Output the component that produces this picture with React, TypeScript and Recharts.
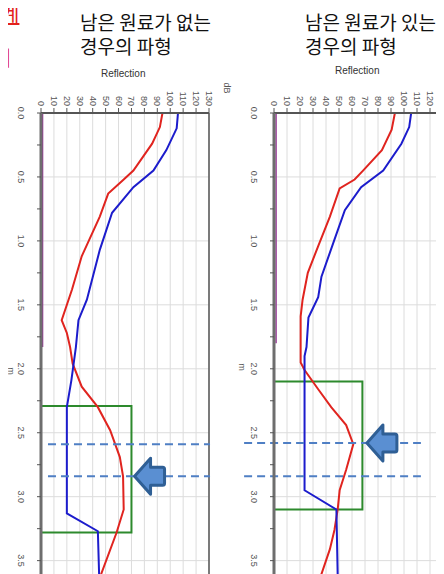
import React from 'react';
import { LineChart, Line, XAxis, YAxis, CartesianGrid, ReferenceLine, ReferenceArea, ReferenceDot } from 'recharts';

const dbTicks = [0, 10, 20, 30, 40, 50, 60, 70, 80, 90, 100, 110, 120, 130];
const depthTicks = [0, 0.25, 0.5, 0.75, 1, 1.25, 1.5, 1.75, 2, 2.25, 2.5, 2.75, 3, 3.25, 3.5, 3.75];
const depthGrid = [0.5, 1, 1.5, 2, 2.5, 3, 3.5];

// left chart: no remaining material
const leftRed = [
  { d: 0, v: 94 }, { d: 0.11, v: 92 }, { d: 0.24, v: 86 }, { d: 0.45, v: 71.5 }, { d: 0.52, v: 64 },
  { d: 0.63, v: 52 }, { d: 0.81, v: 45.5 }, { d: 1.12, v: 31.5 }, { d: 1.38, v: 24 }, { d: 1.62, v: 16 },
  { d: 1.72, v: 20 }, { d: 1.83, v: 22.5 }, { d: 1.96, v: 24.5 }, { d: 2.14, v: 31.5 }, { d: 2.3, v: 44 },
  { d: 2.48, v: 53.5 }, { d: 2.69, v: 61 }, { d: 2.84, v: 63.5 }, { d: 3.1, v: 64 }, { d: 3.28, v: 58.5 },
  { d: 3.62, v: 46 },
];
const leftBlue = [
  { d: 0, v: 106 }, { d: 0.12, v: 105 }, { d: 0.29, v: 97 }, { d: 0.45, v: 87 }, { d: 0.58, v: 71.5 },
  { d: 0.78, v: 55 }, { d: 1.07, v: 45.5 }, { d: 1.46, v: 35.5 }, { d: 1.62, v: 29 }, { d: 1.83, v: 27 },
  { d: 2.09, v: 23.5 }, { d: 2.3, v: 20 }, { d: 3.13, v: 20 }, { d: 3.27, v: 44 }, { d: 3.62, v: 45 },
];
const leftPurple = [{ d: 0, v: 1.2 }, { d: 1.83, v: 1.2 }];

// right chart: remaining material
const rightRed = [
  { d: 0, v: 93 }, { d: 0.13, v: 90.5 }, { d: 0.29, v: 83 }, { d: 0.45, v: 68.5 }, { d: 0.52, v: 62 },
  { d: 0.59, v: 50.5 }, { d: 0.81, v: 43 }, { d: 1.04, v: 34 }, { d: 1.25, v: 26 }, { d: 1.46, v: 22 },
  { d: 1.59, v: 20.5 }, { d: 1.95, v: 20.5 }, { d: 2.01, v: 23.5 }, { d: 2.16, v: 34 }, { d: 2.3, v: 44 },
  { d: 2.44, v: 55.5 }, { d: 2.59, v: 61 }, { d: 2.79, v: 55.5 }, { d: 2.95, v: 50.5 }, { d: 3.1, v: 49 },
  { d: 3.26, v: 46.5 }, { d: 3.41, v: 43 }, { d: 3.62, v: 36 },
];
const rightBlue = [
  { d: 0, v: 105.5 }, { d: 0.11, v: 104 }, { d: 0.24, v: 98 }, { d: 0.45, v: 84 }, { d: 0.58, v: 67 },
  { d: 0.76, v: 54.5 }, { d: 0.99, v: 46.5 }, { d: 1.28, v: 36.5 }, { d: 1.44, v: 34 }, { d: 1.6, v: 26.5 },
  { d: 1.83, v: 25 }, { d: 1.9, v: 23.5 }, { d: 2.95, v: 23.5 }, { d: 3.1, v: 48 }, { d: 3.62, v: 49 },
];
const rightPurple = [{ d: 0, v: 1.6 }, { d: 1.8, v: 1.6 }];

const leftBox = { x2: 70, y1: 2.29, y2: 3.28 };
const rightBox = { x2: 68, y1: 2.1, y2: 3.1 };
const leftDash = { x1: 5.4, x2: 130.8, ys: [2.59, 2.84] };
const rightDash = { x1: -23, x2: 113, ys: [2.58, 2.84] };
const leftArrow = { x: 84, y: 2.84 };
const rightArrow = { x: 83, y: 2.58 };

const tickFont = 'Liberation Sans, Arial, sans-serif';

const XTick = (props: any) => {
  const { x, y, payload } = props;
  return (
    <text x={x} y={y} transform={`rotate(90 ${x} ${y})`} textAnchor="end" dominantBaseline="central"
      fontSize={9} fill="#555" fontFamily={tickFont}>{payload.value}</text>
  );
};

const YTick = (props: any) => {
  const { x, y, payload } = props;
  const v = payload.value;
  if (Math.abs(v * 2 - Math.round(v * 2)) > 1e-6) return <g />;
  return (
    <text x={x} y={y} transform={`rotate(90 ${x} ${y})`} textAnchor="middle" dominantBaseline="central"
      fontSize={9} fill="#555" fontFamily={tickFont}>{v.toFixed(1)}</text>
  );
};

const Arrow = (props: any) => {
  const { cx, cy } = props;
  const l = cx - 15;
  const p = `M ${l} ${cy} L ${l + 16} ${cy - 18} L ${l + 16} ${cy - 9} L ${l + 28} ${cy - 9} Q ${l + 30} ${cy - 9} ${l + 30} ${cy - 7} L ${l + 30} ${cy + 7} Q ${l + 30} ${cy + 9} ${l + 28} ${cy + 9} L ${l + 16} ${cy + 9} L ${l + 16} ${cy + 18} Z`;
  return <path d={p} fill="#5a8fd2" stroke="#2f5f95" strokeWidth={3} strokeLinejoin="round" />;
};

function Panel(props: any) {
  const { red, blue, purple, box, dash, arrow, yWidth, rightMargin } = props;
  return (
    <LineChart layout="vertical" width={222} height={600} margin={{ top: 0, left: 0, right: rightMargin, bottom: 1 }}>
      <CartesianGrid stroke="#dcdcdc" strokeWidth={1} verticalValues={dbTicks} horizontalValues={depthGrid} />
      <XAxis type="number" orientation="top" domain={[0, 130]} ticks={dbTicks} height={113} allowDataOverflow
        tick={<XTick />} tickSize={5} tickMargin={2} axisLine={{ stroke: '#555', strokeWidth: 2 }} tickLine={{ stroke: '#555' }} interval={0} />
      <YAxis type="number" dataKey="d" domain={[0, 3.8]} ticks={depthTicks} width={yWidth} allowDataOverflow
        tick={<YTick />} tickSize={4} tickMargin={16} axisLine={{ stroke: '#6e6e6e', strokeWidth: 3 }} tickLine={{ stroke: '#555' }} interval={0} />
      <ReferenceLine x={130} stroke="#555" strokeWidth={1.5} />
      <Line data={purple} dataKey="v" stroke="#9a3a9a" strokeWidth={1.5} dot={false} isAnimationActive={false} />
      <Line data={red} dataKey="v" stroke="#e0241f" strokeWidth={2} dot={false} isAnimationActive={false} />
      <Line data={blue} dataKey="v" stroke="#1c1ccc" strokeWidth={2} dot={false} isAnimationActive={false} />
      <ReferenceArea x1={0} x2={box.x2} y1={box.y1} y2={box.y2} fill="none" fillOpacity={0} stroke="#2d8a2d" strokeWidth={2} ifOverflow="visible" />
      {dash.ys.map((yy: number) => (
        <ReferenceLine key={yy} segment={[{ x: dash.x1, y: yy }, { x: dash.x2, y: yy }]} stroke="#4f7fc4" strokeWidth={2}
          strokeDasharray="8 5" ifOverflow="visible" />
      ))}
      <ReferenceDot x={arrow.x} y={arrow.y} r={1} ifOverflow="visible" shape={<Arrow />} />
    </LineChart>
  );
}

const abs = (l: number, t: number, extra: any = {}) => ({ position: 'absolute' as const, left: l, top: t, ...extra });
const titleStyle = { fontFamily: '"Noto Sans CJK KR", sans-serif', fontSize: 19, lineHeight: '24px', color: '#111', whiteSpace: 'nowrap' as const };
const smallStyle = { fontFamily: tickFont, fontSize: 10, color: '#333', whiteSpace: 'nowrap' as const };
const rotStyle = { fontFamily: tickFont, fontSize: 9, color: '#555', transform: 'rotate(90deg)', transformOrigin: 'center', whiteSpace: 'nowrap' as const };
const redStyle = { fontFamily: '"Noto Sans CJK KR", sans-serif', fontSize: 20, lineHeight: '28px', color: '#e3211c', whiteSpace: 'nowrap' as const };

export default function App() {
  return (
    <div style={{ position: 'relative', width: 444, height: 574, overflow: 'hidden', margin: '-8px 0 0 -8px', background: '#fff' }}>
      <div style={abs(0, 0)}>
        <Panel red={leftRed} blue={leftBlue} purple={leftPurple} box={leftBox} dash={leftDash} arrow={leftArrow} yWidth={41} rightMargin={13} />
      </div>
      <div style={abs(222, 0)}>
        <Panel red={rightRed} blue={rightBlue} purple={rightPurple} box={rightBox} dash={rightDash} arrow={rightArrow} yWidth={52} rightMargin={1} />
      </div>
      <div style={abs(80, 10, titleStyle)}>남은 원료가 없는</div>
      <div style={abs(80, 34, titleStyle)}>경우의 파형</div>
      <div style={abs(305, 10, titleStyle)}>남은 원료가 있는</div>
      <div style={abs(305, 34, titleStyle)}>경우의 파형</div>
      <div style={abs(1, 0, { ...redStyle, textDecoration: 'underline' })}>계</div>
      <div style={abs(-7, 44, redStyle)}>이</div>
      <div style={abs(101, 68, smallStyle)}>Reflection</div>
      <div style={abs(335, 65, smallStyle)}>Reflection</div>
      <div style={abs(221, 83, rotStyle)}>dB</div>
      <div style={abs(7, 366, rotStyle)}>m</div>
      <div style={abs(238, 362, rotStyle)}>m</div>
    </div>
  );
}
